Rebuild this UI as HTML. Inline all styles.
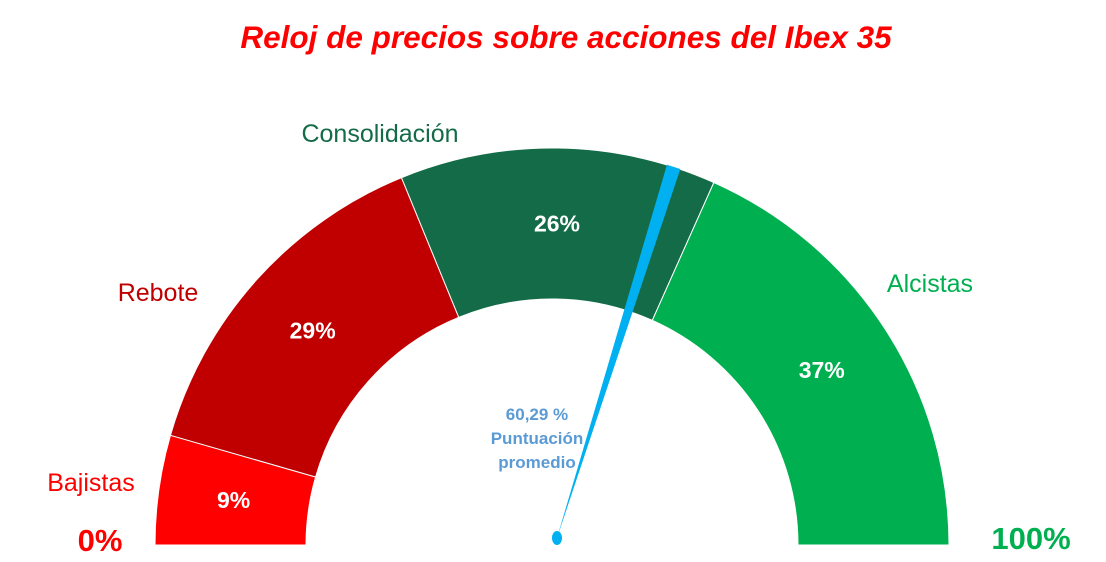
<!DOCTYPE html>
<html><head><meta charset="utf-8"><style>
body{margin:0;background:#fff;width:1106px;height:562px;overflow:hidden;font-family:"Liberation Sans",sans-serif}
svg{display:block}
</style></head><body>
<svg id="chart" width="1106" height="562" viewBox="0 0 1106 562">
<text x="566" y="48" text-anchor="middle" font-family="Liberation Sans" font-size="31.5" font-weight="bold" font-style="italic" fill="#ff0000">Reloj de precios sobre acciones del Ibex 35</text>
<g id="segs"></g>
<text x="100" y="551" text-anchor="middle" font-size="31" font-weight="bold" fill="#ff0000">0%</text>
<text x="1031" y="549" text-anchor="middle" font-size="31" font-weight="bold" fill="#00b050">100%</text>
<g id="needle"></g>
<text x="537" y="420" text-anchor="middle" font-size="17" font-weight="bold" fill="#5b9bd5">60,29 %</text>
<text x="537" y="444" text-anchor="middle" font-size="17" font-weight="bold" fill="#5b9bd5">Puntuación</text>
<text x="537" y="468" text-anchor="middle" font-size="17" font-weight="bold" fill="#5b9bd5">promedio</text>
</svg>
<script>
const categories=["Bajistas","Rebote","Consolidación","Alcistas"];
const shares=[9,29,26,37];
const score=[60.29];
const colors=["#ff0000","#c00000","#136b48","#00b050"];
const labelPos=[[91,491],[158,301],[380,142],[930,292]];
const labelColors=["#ff0000","#c00000","#136b48","#00b050"];
const cx=552,cy=545,R=397,r=246;
const NS="http://www.w3.org/2000/svg";
const total=shares.reduce((a,b)=>a+b,0);
function ang(f){return Math.PI*(1-f);}
function pt(f,rad){const a=ang(f);return [cx+rad*Math.cos(a),cy-rad*Math.sin(a)];}
const g=document.getElementById('segs');
let cum=0;
shares.forEach((v,i)=>{
 const f0=cum/total,f1=(cum+v)/total;cum+=v;
 const [a,b]=pt(f0,R),[c,d]=pt(f1,R),[e,h]=pt(f1,r),[k,l]=pt(f0,r);
 const p=document.createElementNS(NS,'path');
 p.setAttribute('d',`M${a},${b}A${R},${R} 0 0 1 ${c},${d}L${e},${h}A${r},${r} 0 0 0 ${k},${l}Z`);
 p.setAttribute('fill',colors[i]);p.setAttribute('stroke','#fff');p.setAttribute('stroke-width','1');
 
 
 g.appendChild(p);
 const [mx,my]=pt((f0+f1)/2,(R+r)/2);
 const t=document.createElementNS(NS,'text');
 t.setAttribute('x',mx);t.setAttribute('y',my+8);t.setAttribute('text-anchor','middle');
 t.setAttribute('font-size','23');t.setAttribute('font-weight','bold');t.setAttribute('fill','#fff');
 t.textContent=v+'%';
 
 
 g.appendChild(t);
 const lt=document.createElementNS(NS,'text');
 lt.setAttribute('x',labelPos[i][0]);lt.setAttribute('y',labelPos[i][1]);lt.setAttribute('text-anchor','middle');
 lt.setAttribute('font-size','25');lt.setAttribute('fill',labelColors[i]);
 lt.textContent=categories[i];
 
 
 g.appendChild(lt);
});
const n=document.getElementById('needle');
const bx=557,by=538;
const a=ang(score[0]/total);
const L=R-8;
const tx=bx+L*Math.cos(a),ty=by-L*Math.sin(a);
const px=-Math.sin(a)*7,py=-Math.cos(a)*7;
const nd=document.createElementNS(NS,'path');
nd.setAttribute('d',`M${bx},${by}L${tx+px},${ty+py}L${tx-px},${ty-py}Z`);
nd.setAttribute('fill','#00b0f0');


n.appendChild(nd);
const hub=document.createElementNS(NS,'ellipse');
hub.setAttribute('cx',bx);hub.setAttribute('cy',by);hub.setAttribute('rx',5);hub.setAttribute('ry',7);hub.setAttribute('fill','#00b0f0');


n.appendChild(hub);
</script>
</body></html>
